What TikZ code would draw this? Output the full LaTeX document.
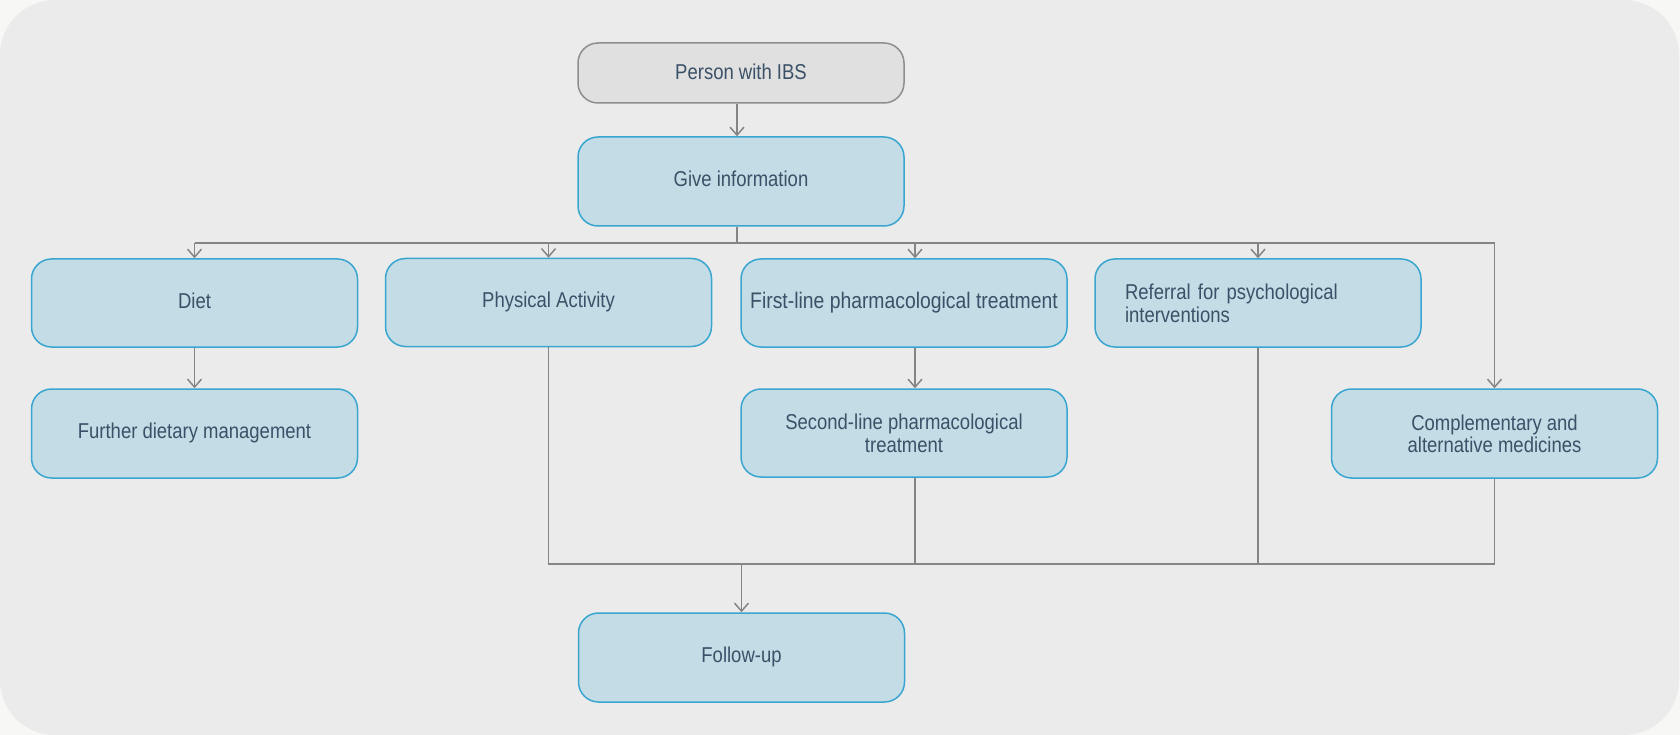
\documentclass[tikz,border=0pt]{standalone}
\usepackage{fontspec}
\setmainfont{Liberation Sans}[FakeStretch=0.86]
\usetikzlibrary{arrows.meta}
\definecolor{outerbg}{HTML}{F7F7F5}
\definecolor{panelbg}{HTML}{EBEBEB}
\definecolor{boxfill}{HTML}{C3DCE6}
\definecolor{boxline}{HTML}{3AA6CF}
\definecolor{startfill}{HTML}{E0E0E0}
\definecolor{startline}{HTML}{8E8E8E}
\definecolor{conn}{HTML}{858585}
\definecolor{txt}{HTML}{3B5168}
\tikzset{
  x=1pt, y=-1pt,
  box/.style={draw=boxline, fill=boxfill, line width=1.5pt, rounded corners=20pt,
    minimum width=326pt, minimum height=88pt, inner sep=4pt, align=center,
    text=txt, font=\fontsize{21.5}{22.5}\selectfont, text depth=0pt},
  oneline/.style={text height=10pt},
  startbox/.style={box, text height=14pt, draw=startline, fill=startfill, minimum height=60pt},
  link/.style={draw=conn, line width=1.8pt},
  arr/.style={link, -{Straight Barb[length=8pt,width=14pt,line width=1.5pt]}}
}
\begin{document}
\begin{tikzpicture}
\useasboundingbox (0,0) rectangle (1680,735);
\fill[outerbg] (0,0) rectangle (1680,735);
\fill[panelbg, rounded corners=55pt] (0,0) rectangle (1679,735);

\node[startbox] (person) at (741,73) {Person with IBS};
\node[box, oneline, minimum height=89pt] (info) at (741,181.5) {Give information};
\node[box, oneline] (diet) at (194.5,303) {Diet};
\node[box, oneline] (pa) at (548.5,302.5) {Physical Activity};
\node[box, oneline, font=\fontsize{22.5}{23.5}\selectfont] (first) at (904,303) {First-line pharmacological treatment};
\node[box, text width=266pt, inner xsep=30pt, align=left, text depth=22.5pt] (ref) at (1258,303) {Referral for psychological\\interventions};
\node[box, oneline, minimum height=89pt] (further) at (194.5,433.5) {Further dietary management};
\node[box] (second) at (904,433) {Second-line pharmacological\\treatment};
\node[box, minimum height=89pt] (comp) at (1494.5,433.5) {Complementary and\\alternative medicines};
\node[box, oneline, minimum height=89pt] (follow) at (741.5,657.5) {Follow-up};

\coordinate (bus) at (737,243);
\coordinate (mrg) at (741,564);
\coordinate (fcol) at (915,243);

\draw[arr] ([xshift=-4pt]person.south) -- ([xshift=-4pt]info.north);
\draw[link] ([xshift=-4pt]info.south) -- (bus);
\draw[link] (diet.north |- bus) -- (comp.north |- bus);
\draw[arr] (diet.north |- bus) -- (diet.north);
\draw[arr] (pa.north |- bus) -- (pa.north);
\draw[arr] (fcol) -- (fcol |- first.north);
\draw[arr] (ref.north |- bus) -- (ref.north);
\draw[arr] (comp.north |- bus) -- (comp.north);
\draw[arr] (diet) -- (further);
\draw[arr] (fcol |- first.south) -- (fcol |- second.north);

\draw[link] (pa.south) -- (pa.south |- mrg) -- (comp.south |- mrg) -- (comp.south);
\draw[link] (fcol |- second.south) -- (fcol |- mrg);
\draw[link] (ref.south) -- (ref.south |- mrg);
\draw[arr] (follow.north |- mrg) -- (follow.north);
\end{tikzpicture}
\end{document}
